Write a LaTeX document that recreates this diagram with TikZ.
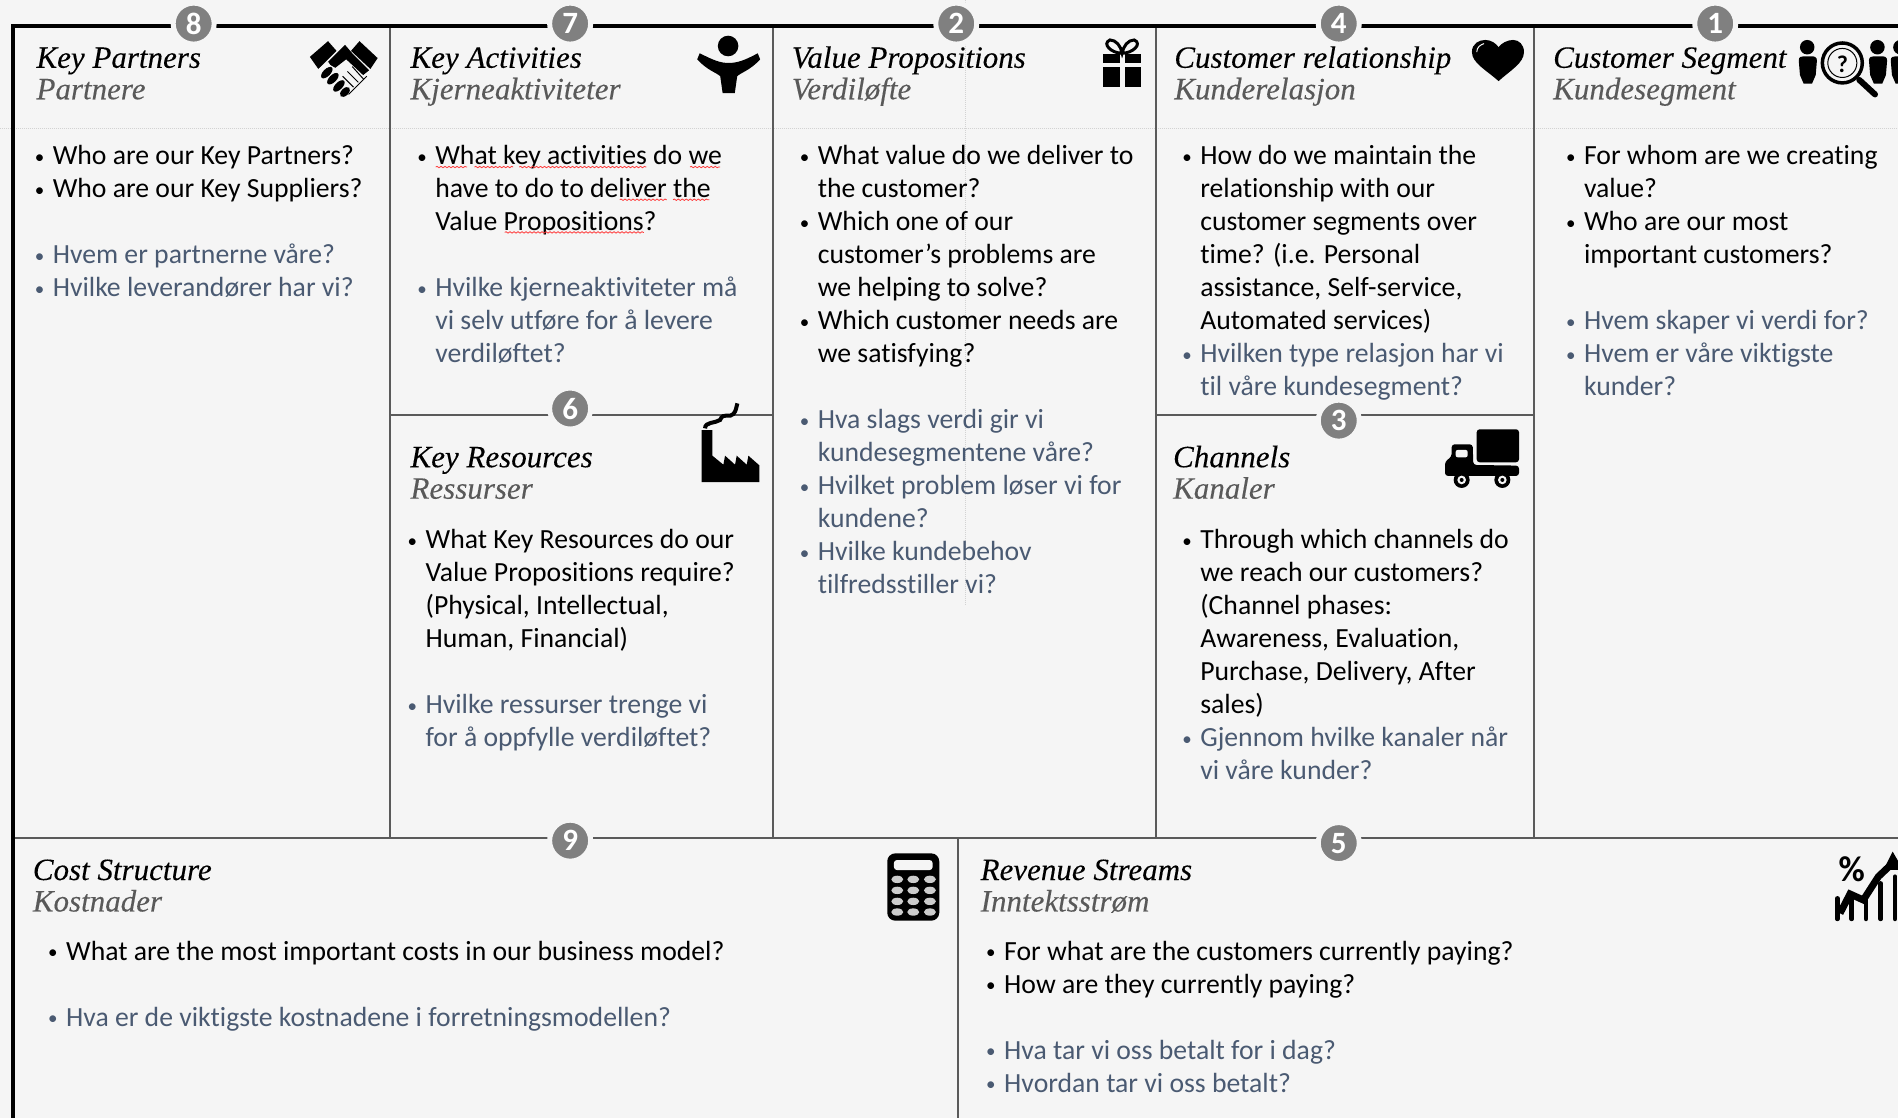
\documentclass[tikz,border=0pt]{standalone}
\usepackage{fontspec}
\setmainfont[Ligatures=NoCommon]{Carlito}
\newfontfamily\ttlfont[FakeBold=0.12]{Liberation Serif}
\usetikzlibrary{decorations.pathmorphing}
\definecolor{bgc}{HTML}{F5F5F5}
\definecolor{bluetxt}{HTML}{4A5A72}
\definecolor{subc}{HTML}{595959}
\definecolor{linec}{HTML}{5A5A5A}
\definecolor{numc}{HTML}{808080}
\definecolor{dotc}{HTML}{D2D2D2}
\newcommand\mystrut{\rule[-9.9pt]{0pt}{33pt}}
\newcommand\bulmark{\makebox[17.5pt][l]{\hspace*{-0.5pt}\raisebox{1.5pt}{\fontsize{19}{19}\selectfont •}}}
\newcommand\BK[1]{\mystrut\bulmark#1}
\newcommand\CK[1]{\mystrut\hspace*{17.5pt}#1}
\newcommand\BB[1]{\mystrut\textcolor{bluetxt}{\bulmark#1}}
\newcommand\CB[1]{\mystrut\hspace*{17.5pt}\textcolor{bluetxt}{#1}}
\newcommand\EL{\mystrut}
\tikzset{
  x=1.2105pt,y=-1.2105pt,
  bodytxt/.style={anchor=north west,inner sep=0pt,align=left,font=\fontsize{27.7}{33}\selectfont},
  ttl/.style={anchor=base west,inner sep=0pt,font=\ttlfont\itshape\fontsize{31}{33}\selectfont},
  subttl/.style={ttl,text=subc},
  numdot/.style={circle,fill=numc,draw=bgc,line width=5pt,minimum size=41pt,inner sep=0pt,text=white,font=\bfseries\fontsize{31}{31}\selectfont},
  inner/.style={draw=linec,line width=2pt},
  outer/.style={draw=black,line width=4pt},
  dots/.style={draw=dotc,line width=1pt,densely dotted},
  squig/.style={draw=red!70!pink,line width=.8pt,decorate,decoration={snake,amplitude=.7pt,segment length=4pt}},
  ink/.style={fill=black,draw=none},
}
\begin{document}
\begin{tikzpicture}
\useasboundingbox (0,0) rectangle (1568,923.6);
\fill[bgc] (0,0) rectangle (1568,923.6);
% faint guides
\draw[dots] (0,106) -- (1568,106);
\draw[dots] (798,0) -- (798,500);
% grid
\draw[inner] (322,21) -- (322,692);
\draw[inner] (638.5,21) -- (638.5,692);
\draw[inner] (955,21) -- (955,692);
\draw[inner] (1267,21) -- (1267,692);
\draw[inner] (322,342.8) -- (638.5,342.8);
\draw[inner] (955,342.8) -- (1267,342.8);
\draw[inner] (11,692) -- (1568,692);
\draw[inner] (791.5,692) -- (791.5,923.6);
\draw[outer] (9.4,21.5) -- (1568,21.5);
\draw[outer] (11,21.5) -- (11,923.6);
% number badges
\node[numdot] (n8) at (160,19.5) {8};
\node[numdot] (n7) at (471,19.5) {7};
\node[numdot] (n2) at (790,19.5) {2};
\node[numdot] (n4) at (1106,19.5) {4};
\node[numdot] (n1) at (1417,19.5) {1};
\node[numdot] (n6) at (471,337.5) {6};
\node[numdot] (n3) at (1106,347.5) {3};
\node[numdot] (n9) at (471,694.5) {9};
\node[numdot] (n5) at (1106,696.5) {5};
% titles
\node[ttl] (t1) at (30,56) {Key Partners};
\node[subttl] (s1) at (30,82) {Partnere};
\node[ttl] (t2) at (339,56) {Key Activities};
\node[subttl] (s2) at (339,82) {Kjerneaktiviteter};
\node[ttl] (t3) at (654,56) {Value Propositions};
\node[subttl] (s3) at (654,82) {Verdiløfte};
\node[ttl] (t4) at (970,56) {Customer relationship};
\node[subttl] (s4) at (970,82) {Kunderelasjon};
\node[ttl] (t5) at (1283,56) {Customer Segment};
\node[subttl] (s5) at (1283,82) {Kundesegment};
\node[ttl] (t6) at (339,386) {Key Resources};
\node[subttl] (s6) at (339,412) {Ressurser};
\node[ttl] (t7) at (969,386) {Channels};
\node[subttl] (s7) at (969,412) {Kanaler};
\node[ttl] (t8) at (27,727) {Cost Structure};
\node[subttl] (s8) at (27,753) {Kostnader};
\node[ttl] (t9) at (810,727) {Revenue Streams};
\node[subttl] (s9) at (810,753) {Inntektsstrøm};
% body text
\node[bodytxt] (b1) at (29,117) {\BK{Who are our Key Partners?}\\\BK{Who are our Key Suppliers?}\\\EL\\\BB{Hvem er partnerne våre?}\\\BB{Hvilke leverandører har vi?}};
\node[bodytxt] (b2) at (345,117) {\BK{What key activities do we}\\\CK{have to do to deliver the}\\\CK{Value Propositions?}\\\EL\\\BB{Hvilke kjerneaktiviteter må}\\\CB{vi selv utføre for å levere}\\\CB{verdiløftet?}};
\node[bodytxt] (b3) at (661,117) {\BK{What value do we deliver to}\\\CK{the customer?}\\\BK{Which one of our}\\\CK{customer’s problems are}\\\CK{we helping to solve?}\\\BK{Which customer needs are}\\\CK{we satisfying?}\\\EL\\\BB{Hva slags verdi gir vi}\\\CB{kundesegmentene våre?}\\\BB{Hvilket problem løser vi for}\\\CB{kundene?}\\\BB{Hvilke kundebehov}\\\CB{tilfredsstiller vi?}};
\node[bodytxt] (b4) at (977,117) {\BK{How do we maintain the}\\\CK{relationship with our}\\\CK{customer segments over}\\\CK{time? (i.e. Personal}\\\CK{assistance, Self-service,}\\\CK{Automated services)}\\\BB{Hvilken type relasjon har vi}\\\CB{til våre kundesegment?}};
\node[bodytxt] (b5) at (1294,117) {\BK{For whom are we creating}\\\CK{value?}\\\BK{Who are our most}\\\CK{important customers?}\\\EL\\\BB{Hvem skaper vi verdi for?}\\\BB{Hvem er våre viktigste}\\\CB{kunder?}};
\node[bodytxt] (b6) at (337,434) {\BK{What Key Resources do our}\\\CK{Value Propositions require?}\\\CK{(Physical, Intellectual,}\\\CK{Human, Financial)}\\\EL\\\BB{Hvilke ressurser trenge vi}\\\CB{for å oppfylle verdiløftet?}};
\node[bodytxt] (b7) at (977,434) {\BK{Through which channels do}\\\CK{we reach our customers?}\\\CK{(Channel phases:}\\\CK{Awareness, Evaluation,}\\\CK{Purchase, Delivery, After}\\\CK{sales)}\\\BB{Gjennom hvilke kanaler når}\\\CB{vi våre kunder?}};
\node[bodytxt] (b8) at (40,774) {\BK{What are the most important costs in our business model?}\\\EL\\\BB{Hva er de viktigste kostnadene i forretningsmodellen?}};
\node[bodytxt] (b9) at (815,774) {\BK{For what are the customers currently paying?}\\\BK{How are they currently paying?}\\\EL\\\BB{Hva tar vi oss betalt for i dag?}\\\BB{Hvordan tar vi oss betalt?}};
% spell-check underlines
\draw[squig] (360,138) -- (386,138);
\draw[squig] (392,138) -- (424,138);
\draw[squig] (429,138) -- (534,138);
\draw[squig] (570,138) -- (595,138);
\draw[squig] (512,165) -- (551,165);
\draw[squig] (556,165) -- (586,165);
\draw[squig] (417,192) -- (532,192);
% handshake
\fill[ink] (256,47) -- (271,34) -- (278,42) -- (263,57) -- cycle;
\fill[ink] (297,34) -- (312,48) -- (306,57) -- (290,42) -- cycle;
\fill[ink] (274,48) -- (285,37) -- (291,44) -- (305,58) -- (300,62) -- (286,49) -- (277,56) -- (270,52) -- cycle;
\fill[bgc] (263,57) -- (271,51) -- (275,57) -- (267,62) -- cycle;
\fill[ink,rotate around={45:(270,60)}] (270,60) ellipse (6 and 3);
\fill[ink,rotate around={45:(275,65)}] (275,65) ellipse (6 and 3);
\fill[ink,rotate around={45:(280,71)}] (280,71) ellipse (6 and 3);
\fill[ink,rotate around={45:(285,76)}] (285,76) ellipse (5 and 3);
\draw[black,line width=1pt] (288,78) -- (303,63) (292,72) -- (283,63) (296,68) -- (287,59) (300,65) -- (291,55);
% person
\fill[ink] (601.5,38) circle (8.5);
\fill[ink] (578,44) .. controls (590,50) and (595,52) .. (602,52) .. controls (609,52) and (615,50) .. (626,44) -- (628,49) .. controls (620,58) and (612,60) .. (609,63) -- (607,77) -- (597,77) -- (595,63) .. controls (592,60) and (584,58) .. (576,49) -- cycle;
% gift
\fill[ink] (911,55) rectangle (925,72);
\fill[ink] (929,55) rectangle (943,72);
\fill[ink] (911,45) rectangle (925,52);
\fill[ink] (929,45) rectangle (943,52);
\draw[black,line width=3pt] (927,44) .. controls (918,44) and (910,36) .. (917,33) .. controls (922,33) and (926,38) .. (927,44) .. controls (928,38) and (932,33) .. (937,33) .. controls (944,36) and (936,44) .. (927,44);
% heart
\fill[ink] (1238,67) .. controls (1228,58) and (1216,52) .. (1216,43) .. controls (1216,36) and (1222,33) .. (1227,33) .. controls (1232,33) and (1236,36) .. (1238,39) .. controls (1240,36) and (1245,33) .. (1250,33) .. controls (1255,33) and (1259,37) .. (1259,43) .. controls (1259,52) and (1248,58) .. (1238,67) -- cycle;
\draw[bgc,line width=1pt] (1220,43) .. controls (1220,39) and (1223,37) .. (1226,36);
% customer segment: people and magnifier
\fill[ink] (1493,39) circle (6);
\fill[ink] (1486,50) .. controls (1486,47) and (1488,46.5) .. (1490,46.5) -- (1496,46.5) .. controls (1499,46.5) and (1501,47) .. (1501,50) -- (1500,62) -- (1497,69) -- (1490,69) -- (1487,62) -- cycle;
\draw[black,line width=3.5pt] (1522,52) circle (16.5);
\draw[black,line width=1pt] (1522,52) circle (12);
\node[inner sep=0pt,font=\bfseries\fontsize{24}{24}\selectfont] (qm) at (1522,53) {?};
\draw[black,line width=6pt,line cap=round] (1536,66) -- (1549,78);
\fill[ink] (1551,39) circle (6);
\fill[ink] (1544,50) .. controls (1544,47) and (1546,46.5) .. (1548,46.5) -- (1554,46.5) .. controls (1557,46.5) and (1559,47) .. (1559,50) -- (1558,62) -- (1555,69) -- (1548,69) -- (1545,62) -- cycle;
\fill[ink] (1570,39) circle (6);
\fill[ink] (1562,50) .. controls (1562,47) and (1564,46.5) .. (1566,46.5) -- (1572,46.5) .. controls (1575,46.5) and (1577,47) .. (1577,50) -- (1576,62) -- (1573,69) -- (1566,69) -- (1563,62) -- cycle;
% factory
\begin{scope}[shift={(561.8,322.2)},scale=.2754]
\fill[ink] (65,120) -- (97,120) -- (97,197) -- (130,224) -- (135,197) -- (165,224) -- (170,197) -- (200,224) -- (205,197) -- (238,226) -- (238,276) -- (65,276) -- cycle;
\draw[black,line width=4pt] (75,115) .. controls (75,95) and (105,100) .. (120,90) .. controls (130,65) and (150,85) .. (160,72) .. controls (168,62) and (168,55) .. (172,40);
\end{scope}
% truck
\begin{scope}[shift={(1173.1,330.4)},scale=.2754]
\fill[ink,rounded corners=3pt] (170,88) rectangle (297,187);
\fill[ink,rounded corners=3pt] (75,228) -- (75,185) -- (95,170) -- (95,133) -- (158,133) -- (160,195) -- (297,197) -- (297,228) -- cycle;
\fill[bgc,rounded corners=2pt] (107,150) rectangle (143,172);
\foreach \wx in {125,247}{
  \fill[ink] (\wx,240) circle (24);
  \fill[bgc] (\wx,240) circle (13);
  \fill[ink] (\wx,240) circle (6);
}
\end{scope}
% calculator
\begin{scope}[shift={(710.4,685.7)},scale=.2754]
\fill[ink,rounded corners=8pt] (82,70) rectangle (238,272);
\fill[bgc,rounded corners=3pt] (102,90) rectangle (218,120);
\foreach \kx in {112,160,210}{
  \foreach \ky in {148,181,214,246}{
    \fill[black!20] (\kx,\ky) ellipse (18 and 11);
  }
}
\end{scope}
% revenue chart
\begin{scope}[shift={(1404.4,677.4)},scale=.2754]
\node[inner sep=0pt,font=\bfseries\fontsize{36}{36}\selectfont] (pct) at (455,147) {\%};
\foreach \bx/\by in {412/235,455/225,498/240,542/190,585/170}{
  \draw[black,line width=4.5pt,line cap=round] (\bx,\by) -- (\bx,297);
}
\draw[black,line width=7pt] (420,280) -- (450,222) -- (490,240) -- (535,170) -- (572,135);
\fill[ink] (578,95) -- (610,150) -- (550,150) -- cycle;
\end{scope}
\end{tikzpicture}
\end{document}
